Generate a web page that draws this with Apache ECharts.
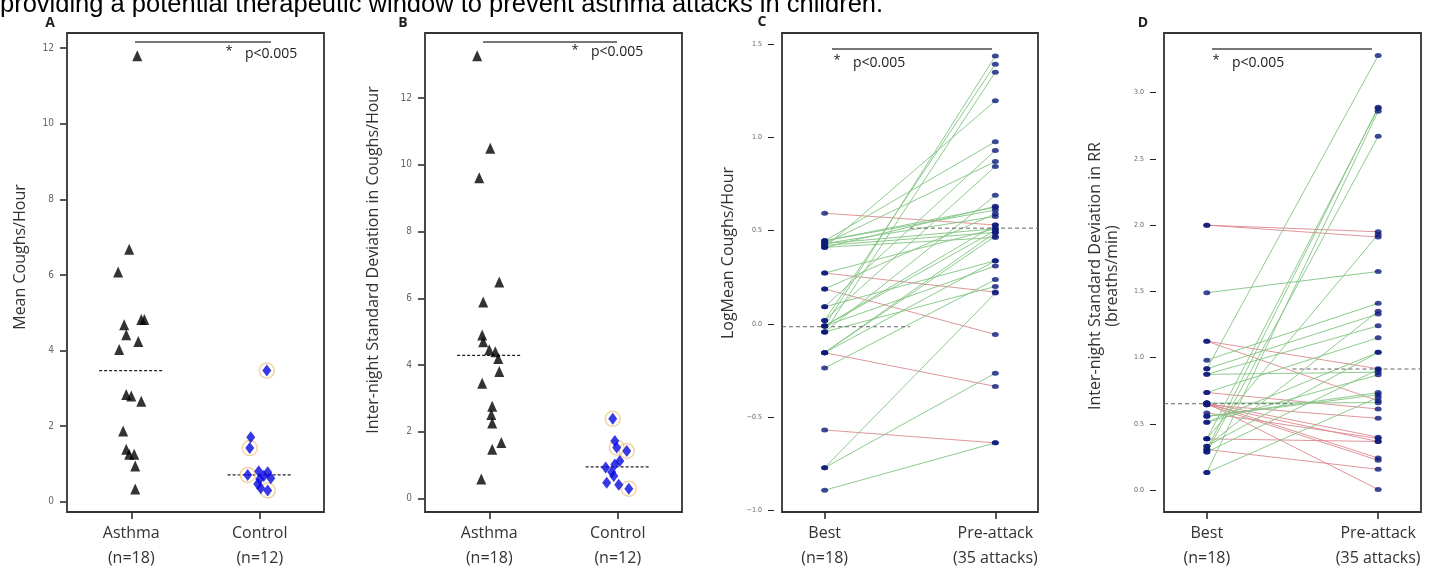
<!DOCTYPE html>
<html>
<head>
<meta charset="utf-8">
<script src="https://cdn.jsdelivr.net/npm/echarts@6/dist/echarts.min.js"></script>
<style>
  html, body { margin: 0; padding: 0; background: #fff; }
  #chart { width: 1442px; height: 571px; }
</style>
</head>
<body>
<div id="chart"></div>
<script>
// ---- data ----
const groupLabels = ['Asthma\n(n=18)', 'Control\n(n=12)'];
const pairLabels = ['Best\n(n=18)', 'Pre-attack\n(35 attacks)'];

// A: mean coughs/hour (x jitter in category units)
const asthmaA = [11.8, 6.68, 6.08, 4.82, 4.82, 4.68, 4.42, 4.24, 4.03, 2.84, 2.8, 2.66, 1.87, 1.39, 1.26, 1.26, 0.95, 0.34];
const asthmaJitterA = [0.047, -0.016, -0.102, 0.078, 0.102, -0.055, -0.039, 0.055, -0.094, -0.039, 0, 0.078, -0.063, -0.039, -0.016, 0.023, 0.031, 0.031];
const controlA = [3.47, 1.71, 1.42, 0.71, 0.81, 0.78, 0.68, 0.62, 0.6, 0.47, 0.36, 0.3];
const controlJitterA = [0.055, -0.07, -0.078, -0.094, -0.008, 0.062, 0.031, 0.086, 0, -0.016, 0.008, 0.062];
const controlHaloA = [1, 0, 1, 1, 0, 0, 0, 0, 0, 0, 0, 1];
const mediansA = [3.47, 0.71];

// B: inter-night SD in coughs/hour
const asthmaB = [13.27, 10.5, 9.61, 6.49, 5.89, 4.9, 4.7, 4.46, 4.4, 4.2, 3.81, 3.46, 2.77, 2.52, 2.27, 1.68, 1.48, 0.59];
const asthmaJitterB = [-0.094, 0.008, -0.078, 0.078, -0.047, -0.055, -0.047, 0, 0.047, 0.07, 0.078, -0.055, 0.023, 0.016, 0.023, 0.094, 0.023, -0.062];
const controlB = [2.39, 1.73, 1.53, 1.43, 1.13, 1.02, 0.93, 0.8, 0.68, 0.48, 0.42, 0.3];
const controlJitterB = [-0.039, -0.023, -0.008, 0.07, 0.016, -0.023, -0.094, -0.047, -0.031, -0.086, 0.008, 0.086];
const controlHaloB = [1, 0, 1, 1, 0, 0, 0, 0, 0, 0, 0, 1];
const mediansB = [4.29, 0.95];

// C: log mean coughs/hour, best vs pre-attack (one entry per attack)
const bestC = [0.593, 0.445, 0.445, 0.43, 0.43, 0.42, 0.41, 0.41, 0.41, 0.272, 0.272, 0.187, 0.187, 0.091, 0.091, 0.018, 0.018,
  -0.012, -0.012, -0.012, -0.044, -0.044, -0.044, -0.155, -0.155, -0.155, -0.155, -0.238, -0.57, -0.772, -0.772, -0.893, 0.43, -0.012, 0.445];
const preC = [0.53, 0.977, 0.61, 0.87, 0.576, 0.49, 0.463, 1.196, 0.63, 0.17, 0.51, -0.057, 0.59, 0.93, 0.338, 1.393, 0.844,
  1.436, 0.53, 0.31, 1.35, 0.689, 0.2, -0.336, 0.49, 0.338, 0.47, 0.237, -0.639, 0.165, -0.265, -0.639, 0.51, 0.5, 0.625];
const mediansC = [-0.016, 0.513];

// D: inter-night SD in RR, best vs pre-attack
const bestD = [2.0, 2.0, 1.49, 1.124, 1.124, 0.981, 0.916, 0.916, 0.874, 0.874, 0.737, 0.737, 0.657, 0.657, 0.657, 0.657, 0.644, 0.644,
  0.644, 0.582, 0.557, 0.512, 0.387, 0.387, 0.332, 0.307, 0.307, 0.287, 0.287, 0.133, 0.133, 0.332, 0.387, 0.512, 0.557];
const preD = [1.95, 1.91, 1.65, 0.916, 0.674, 1.41, 3.28, 1.33, 0.89, 1.24, 0.612, 1.15, 0.005, 0.242, 0.4, 0.66, 0.225, 0.367,
  0.542, 0.39, 0.736, 1.04, 2.88, 0.367, 1.35, 0.157, 2.89, 2.67, 0.91, 2.86, 0.7, 1.04, 1.93, 0.87, 0.72];
const mediansD = [0.652, 0.914];

// axis ranges and ticks
const yTicksA = [0, 2, 4, 6, 8, 10, 12];
const yTicksB = [0, 2, 4, 6, 8, 10, 12];
const yTicksC = [-1.0, -0.5, 0.0, 0.5, 1.0, 1.5];
const yTicksD = [0.0, 0.5, 1.0, 1.5, 2.0, 2.5, 3.0];

const sentence = 'providing a potential therapeutic window to prevent asthma attacks in children.';

const UP = '#82c482', DOWN = '#dc8a90', DOT = '#0c1a7c';

function drawChart() {
  const chart = echarts.init(document.getElementById('chart'), null, { renderer: 'canvas' });

  const grids = [
    { left: 67, top: 33, width: 257, height: 484 },
    { left: 425, top: 33, width: 257, height: 484 },
    { left: 782, top: 33, width: 256, height: 484 },
    { left: 1164, top: 33, width: 257, height: 484 }
  ].map(g => Object.assign(g, { show: true, borderColor: '#333', borderWidth: 1.8, containLabel: false }));

  const xRanges = [[-0.5, 1.5], [-0.5, 1.5], [-0.25, 1.25], [-0.25, 1.25]];
  const yRanges = [[-0.27, 12.4], [-0.4, 13.95], [-1.01, 1.56], [-0.165, 3.45]];
  const yTicks = [yTicksA, yTicksB, yTicksC, yTicksD];
  const xNames = [groupLabels, groupLabels, pairLabels, pairLabels];

  const xAxis = xRanges.map((r, i) => ({
    type: 'value', gridIndex: i, min: r[0], max: r[1], position: 'bottom',
    axisLine: { show: false, onZero: false },
    splitLine: { show: false },
    axisTick: { show: true, length: 7, customValues: [0, 1], lineStyle: { color: '#222', width: 1.5 } },
    axisLabel: {
      customValues: [0, 1], margin: 9,
      formatter: v => xNames[i][Math.round(v)],
      fontFamily: 'Open Sans', fontSize: 16, lineHeight: 25, color: '#333'
    }
  }));

  const yAxis = yRanges.map((r, i) => ({
    type: 'value', gridIndex: i, min: r[0], max: r[1], position: 'left',
    offset: i < 2 ? 1 : 8,
    axisLine: { show: false, onZero: false },
    splitLine: { show: false },
    axisTick: { show: true, length: 6, customValues: yTicks[i], lineStyle: { color: '#222', width: i < 2 ? 1.5 : 1 } },
    axisLabel: {
      customValues: yTicks[i], margin: i < 2 ? 12 : 12,
      formatter: v => i < 2 ? String(v) : v.toFixed(1).replace('-', '\u2212'),
      fontFamily: 'DejaVu Sans Condensed, DejaVu Sans', fontSize: i < 2 ? 10 : 7, color: '#666'
    }
  }));

  const series = [];

  // A and B: jittered groups with median bars
  const groupPanels = [
    [asthmaA, asthmaJitterA, controlA, controlJitterA, controlHaloA, mediansA],
    [asthmaB, asthmaJitterB, controlB, controlJitterB, controlHaloB, mediansB]
  ];
  groupPanels.forEach(([asthma, aj, control, cj, halo, medians], p) => {
    const ax = { xAxisIndex: p, yAxisIndex: p, silent: true };
    medians.forEach((m, c) => series.push(Object.assign({
      type: 'line', data: [[c - 0.25, m], [c + 0.25, m]], symbol: 'none', z: 1,
      lineStyle: { color: '#222', width: 1.2, type: [3, 2] }
    }, ax)));
    series.push(Object.assign({
      type: 'scatter', name: 'Asthma', symbol: 'triangle', symbolSize: [10, 11],
      itemStyle: { color: '#000' }, z: 3,
      data: asthma.map((v, k) => [aj[k], v])
    }, ax));
    series.push(Object.assign({
      type: 'scatter', name: 'Control halo', symbol: 'circle', symbolSize: 15, z: 2,
      itemStyle: { color: 'rgba(255,255,255,0)', borderColor: '#efc88c', borderWidth: 1.5 },
      data: control.map((v, k) => [1 + cj[k], v]).filter((d, k) => halo[k])
    }, ax));
    series.push(Object.assign({
      type: 'scatter', name: 'Control', symbol: 'diamond', symbolSize: [9, 12],
      itemStyle: { color: '#0808e0' }, z: 3,
      data: control.map((v, k) => [1 + cj[k], v])
    }, ax));
  });

  // C and D: paired best -> pre-attack
  const pairPanels = [[bestC, preC, mediansC], [bestD, preD, mediansD]];
  pairPanels.forEach(([best, pre, medians], q) => {
    const p = q + 2;
    const ax = { xAxisIndex: p, yAxisIndex: p, silent: true };
    series.push(Object.assign({
      type: 'lines', coordinateSystem: 'cartesian2d', z: 1,
      lineStyle: { width: 1, opacity: 0.9 },
      data: best.map((b, k) => ({
        coords: [[0, b], [1, pre[k]]],
        lineStyle: { color: pre[k] >= b ? UP : DOWN }
      }))
    }, ax));
    series.push(Object.assign({
      type: 'line', data: [[-0.25, medians[0]], [0.5, medians[0]]], symbol: 'none', z: 2,
      lineStyle: { color: '#666', width: 1, type: [4, 3] }
    }, ax));
    series.push(Object.assign({
      type: 'line', data: [[0.5, medians[1]], [1.25, medians[1]]], symbol: 'none', z: 2,
      lineStyle: { color: '#666', width: 1, type: [4, 3] }
    }, ax));
    series.push(Object.assign({
      type: 'scatter', symbol: 'circle', symbolSize: [7, 5], z: 3,
      itemStyle: { color: DOT },
      data: best.map(b => [0, b]).concat(pre.map(v => [1, v]))
    }, ax));
  });

  // annotations: panel letters, significance bars, axis titles
  const notes = [
    { letter: 'A', lx: 50, ly: 23, bar: [135, 271, 42], star: [229, 51], p: [245, 54] },
    { letter: 'B', lx: 403, ly: 23, bar: [483, 617, 42], star: [575, 50], p: [591, 52] },
    { letter: 'C', lx: 762, ly: 22, bar: [832, 992, 49], star: [837, 60], p: [853, 63] },
    { letter: 'D', lx: 1143, ly: 23, bar: [1212, 1372, 49], star: [1216, 60], p: [1232, 63] }
  ];
  const titles = [
    { text: 'Mean Coughs/Hour', x: 20, y: 257 },
    { text: 'Inter-night Standard Deviation in Coughs/Hour', x: 373, y: 260 },
    { text: 'LogMean Coughs/Hour', x: 728, y: 253 },
    { text: 'Inter-night Standard Deviation in RR\n(breaths/min)', x: 1104, y: 276 }
  ];
  const graphic = [{
    type: 'text', x: 0, y: 5,
    style: { text: sentence, font: '25.5px "Liberation Sans", Arial, sans-serif', fill: '#000', align: 'left', verticalAlign: 'middle' }
  }];
  notes.forEach(n => {
    graphic.push({ type: 'text', x: n.lx, y: n.ly, style: { text: n.letter, font: 'bold 14px "Open Sans"', fill: '#222', align: 'center', verticalAlign: 'middle' } });
    graphic.push({ type: 'line', shape: { x1: n.bar[0], y1: n.bar[2], x2: n.bar[1], y2: n.bar[2] }, style: { stroke: '#777', lineWidth: 2 } });
    graphic.push({ type: 'text', x: n.star[0], y: n.star[1], style: { text: '*', font: '13px "Open Sans"', fill: '#222', align: 'center', verticalAlign: 'middle' } });
    graphic.push({ type: 'text', x: n.p[0], y: n.p[1], style: { text: 'p<0.005', font: '14px "Open Sans"', fill: '#222', align: 'left', verticalAlign: 'middle' } });
  });
  titles.forEach(t => graphic.push({
    type: 'text', x: t.x, y: t.y, rotation: Math.PI / 2,
    style: { text: t.text, font: '16px "Open Sans"', fill: '#333', align: 'center', verticalAlign: 'middle', lineHeight: 17 }
  }));

  chart.setOption({
    animation: false,
    backgroundColor: '#fff',
    grid: grids,
    xAxis: xAxis,
    yAxis: yAxis,
    series: series,
    graphic: graphic
  });
}

drawChart();
</script>
</body>
</html>
